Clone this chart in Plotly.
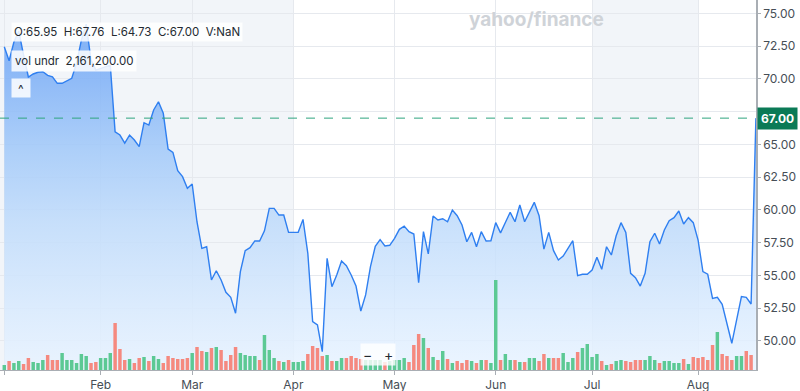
import pandas as pd
import plotly.graph_objects as go

# ---------------- data ----------------
holidays = ["2025-01-01", "2025-01-09", "2025-01-20", "2025-02-17",
            "2025-04-18", "2025-05-26", "2025-06-19", "2025-07-04"]
days = pd.bdate_range("2025-01-02", "2025-08-19")
days = days[~days.isin(pd.to_datetime(holidays))]

close = [
    72.45, 71.38, 72.81, 73.65, 71.82, 70.14, 70.37, 70.50, 70.54, 70.27,
    70.16, 69.66, 69.66, 69.85, 70.04, 71.20, 72.96, 74.18, 71.43, 70.67,
    70.80, 70.92, 71.05, 65.96, 65.71, 65.10, 65.71, 65.33, 64.82, 66.65,
    66.47, 67.62, 68.25, 67.37, 64.64, 64.39, 62.98, 62.53, 61.64, 61.97,
    59.07, 57.06, 57.18, 54.64, 55.35, 54.64, 53.70, 53.32, 52.10, 55.28,
    56.88, 57.11, 57.63, 57.62, 58.40, 60.11, 60.11, 59.60, 59.60, 58.28,
    58.28, 58.28, 59.27, 56.68, 51.46, 51.21, 49.17, 56.30, 54.13, 55.02,
    56.09, 55.73, 55.02, 54.18, 52.27, 53.50, 55.66, 57.22, 57.72, 57.24,
    57.29, 57.82, 58.51, 58.76, 58.33, 58.15, 54.44, 58.33, 56.63, 59.53,
    59.22, 59.32, 59.09, 59.98, 59.55, 58.84, 57.56, 58.28, 57.18, 58.33,
    57.62, 57.64, 59.02, 58.24, 59.03, 59.81, 59.09, 60.37, 59.09, 59.81,
    60.57, 59.55, 57.00, 58.28, 56.88, 56.17, 56.47, 57.06, 57.64, 54.97,
    55.08, 55.08, 55.40, 56.37, 55.46, 57.18, 56.55, 58.02, 59.02, 58.28,
    55.15, 54.82, 54.18, 55.15, 57.56, 58.21, 57.39, 58.46, 59.17, 59.40,
    59.91, 58.92, 59.40, 59.02, 57.69, 55.28, 55.08, 53.24, 53.32, 52.79,
    51.28, 49.81, 51.59, 53.37, 53.32, 52.81, 67.00,
]

# volume in millions of shares (last session: NaN)
volume = [
    1.0, 1.8, 1.4, 1.8, 1.2, 2.4, 1.6, 1.4, 2.0, 3.0,
    2.0, 2.0, 3.4, 2.0, 2.0, 1.4, 3.2, 2.8, 1.4, 1.6,
    2.4, 2.4, 3.4, 9.4, 4.2, 2.0, 2.2, 1.4, 2.4, 2.6,
    1.8, 2.8, 2.2, 1.4, 2.8, 2.4, 2.2, 2.2, 2.4, 3.4,
    4.6, 3.8, 3.6, 4.4, 4.6, 4.0, 1.8, 3.0, 4.6, 3.4,
    3.0, 2.8, 2.8, 2.0, 7.0, 4.0, 2.4, 1.8, 1.6, 2.0,
    1.6, 1.6, 1.8, 3.2, 4.8, 4.4, 2.8, 3.0, 1.8, 1.8,
    2.4, 2.4, 2.8, 2.4, 2.2, 2.0, 2.0, 2.0, 2.0, 1.6,
    1.8, 2.0, 2.0, 2.4, 1.6, 5.0, 7.2, 6.4, 4.4, 2.6,
    2.0, 3.8, 2.2, 1.4, 1.8, 1.4, 2.0, 1.8, 1.4, 2.0,
    2.0, 1.4, 18.0, 2.0, 3.2, 2.0, 2.0, 1.6, 1.6, 2.4,
    2.4, 1.8, 3.2, 2.4, 2.4, 2.4, 3.4, 1.6, 2.4, 3.6,
    4.4, 5.2, 2.6, 3.2, 1.8, 1.0, 1.2, 1.8, 2.0, 1.8,
    1.6, 2.0, 2.0, 2.0, 2.8, 2.0, 1.4, 1.8, 1.8, 1.4,
    1.4, 2.2, 1.2, 2.6, 2.4, 2.6, 2.0, 5.0, 7.6, 3.2,
    2.8, 2.0, 2.8, 2.8, 3.8, 3.0, None,
]

price_ticks = [50.0, 52.5, 55.0, 57.5, 60.0, 62.5, 65.0, 67.5, 70.0, 72.5, 75.0]
last_price = 67.00
ohlc_text = "O:65.95\u00a0\u00a0H:67.76\u00a0\u00a0L:64.73\u00a0\u00a0C:67.00\u00a0\u00a0V:NaN"
vol_text = "vol undr\u00a0\u00a02,161,200.00"

# ---------------- derived ----------------
x = list(range(len(days)))
month_idx = [0] + [i for i in range(1, len(days)) if days[i].month != days[i - 1].month]
month_lbl = [""] + [days[i].strftime("%b") for i in month_idx[1:]]
up = [True] + [close[i] >= close[i - 1] for i in range(1, len(close))]
vol_colors = ["#5cc994" if u else "#f5897f" for u in up]
# the tick label hidden behind the last-price marker is left blank
price_ticktext = ["" if abs(v - last_price) < 1.0 else f"{v:.2f}" for v in price_ticks]

X_RANGE = [-0.89, 156.02]
Y_RANGE = [47.77, 76.02]
FONT = "Inter, Open Sans, sans-serif"

fig = go.Figure()

# area fill (primary y)
fig.add_trace(go.Scatter(
    x=x, y=close, mode="lines", line=dict(width=0, color="rgba(0,0,0,0)"),
    fill="tozeroy",
    fillgradient=dict(type="vertical", start=Y_RANGE[0], stop=76.0,
                      colorscale=[[0.0, "rgba(232,243,255,0.85)"],
                                  [0.15, "rgba(218,235,254,0.85)"],
                                  [0.4, "rgba(191,219,251,0.85)"],
                                  [0.6, "rgba(160,200,249,0.85)"],
                                  [0.82, "rgba(120,172,246,0.85)"],
                                  [1.0, "rgba(108,165,245,0.85)"]]),
    hoverinfo="skip", showlegend=False, yaxis="y"))

# volume bars
fig.add_trace(go.Bar(
    x=x, y=volume, marker=dict(color=vol_colors, line=dict(width=0)),
    width=0.72, showlegend=False, yaxis="y2"))

# price line
fig.add_trace(go.Scatter(
    x=x, y=close, mode="lines", line=dict(color="#2f7ff0", width=1.4),
    showlegend=False, yaxis="y3"))

# background month bands
bands = [(X_RANGE[0], month_idx[3]), (month_idx[6], month_idx[7])]
shapes = []
for a, b in bands:
    shapes.append(dict(type="rect", xref="x", yref="paper", x0=a, x1=b, y0=0, y1=1,
                       fillcolor="#f2f5f9", line=dict(width=0), layer="below"))
shapes.append(dict(type="line", xref="paper", yref="y", x0=0, x1=1,
                   y0=last_price, y1=last_price,
                   line=dict(color="#2fa57f", width=1, dash="dash")))

fig.update_layout(
    width=800, height=391,
    margin=dict(l=0, r=44, t=0, b=21),
    paper_bgcolor="white", plot_bgcolor="white",
    font=dict(family=FONT, size=12, color="#464e56"),
    bargap=0.25,
    shapes=shapes,
    xaxis=dict(range=X_RANGE, tickmode="array", tickvals=month_idx, ticktext=month_lbl,
               showgrid=True, gridcolor="#e6e9ee", gridwidth=1,
               showline=True, linecolor="#a9aeb4", linewidth=1,
               ticks="outside", ticklen=4, tickcolor="#a9aeb4",
               tickfont=dict(size=12, color="#464e56"), zeroline=False, fixedrange=True),
    yaxis=dict(range=Y_RANGE, side="right", tickmode="array", tickvals=price_ticks,
               ticktext=price_ticktext,
               showgrid=True, gridcolor="#e6e9ee", gridwidth=1,
               showline=True, linecolor="#a9aeb4", linewidth=1.5,
               ticks="outside", ticklen=3, tickcolor="#a9aeb4",
               tickfont=dict(size=12, color="#464e56"), zeroline=False),
    yaxis2=dict(range=[0, 74], overlaying="y", visible=False, showgrid=False),
    yaxis3=dict(range=Y_RANGE, overlaying="y", visible=False, showgrid=False),
    annotations=[
        dict(xref="paper", yref="paper", x=11 / 756, y=1 - 32 / 370, xanchor="left",
             yanchor="middle", text=ohlc_text, showarrow=False,
             font=dict(size=11.5, color="#232a31", family=FONT),
             bgcolor="rgba(255,255,255,0.85)", borderpad=2),
        dict(xref="paper", yref="paper", x=11 / 756, y=1 - 61.5 / 370, xanchor="left",
             yanchor="middle", text=vol_text, showarrow=False,
             font=dict(size=11.5, color="#232a31", family=FONT),
             bgcolor="rgba(255,255,255,0.85)", borderpad=3),
        dict(xref="paper", yref="paper", x=11 / 756, y=1 - 88 / 370, xanchor="left",
             yanchor="middle", text="^", showarrow=False, width=14, height=14,
             font=dict(size=12, color="#232a31", family=FONT),
             bgcolor="rgba(255,255,255,0.85)", borderpad=2),
        dict(xref="paper", yref="paper", x=536 / 756, y=1 - 19 / 370, xanchor="center",
             yanchor="middle", text="<b>yahoo/finance</b>", showarrow=False,
             font=dict(size=19, color="#cfd3d8", family=FONT)),
        dict(xref="paper", yref="paper", x=378 / 756, y=1 - 354 / 370, xanchor="center",
             yanchor="middle", text="\u2212\u00a0\u00a0\u00a0+", showarrow=False,
             font=dict(size=14, color="#232a31", family=FONT),
             bgcolor="rgba(255,255,255,0.8)", borderpad=2),
        dict(xref="paper", yref="y", x=1, y=last_price, xanchor="left", yanchor="middle",
             xshift=1, text=f"<b>{last_price:.2f}</b>", showarrow=False,
             font=dict(size=12, color="white", family=FONT),
             bgcolor="#0b7a56", borderpad=3),
    ],
)

fig.write_html("out.html")
